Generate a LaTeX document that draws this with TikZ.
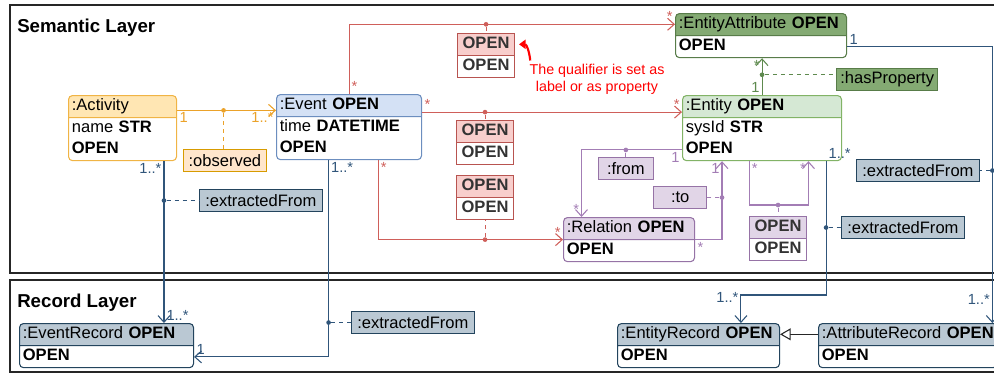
\documentclass[tikz,border=0pt]{standalone}
\usepackage{fontspec}
\setmainfont{Liberation Sans}
\usepackage{xcolor}
\usetikzlibrary{positioning,arrows.meta,shapes.multipart,calc}
\definecolor{actf}{HTML}{FFE6B3}
\definecolor{actd}{HTML}{F0B445}
\definecolor{orl}{HTML}{EBA22A}
\definecolor{obsf}{HTML}{FFE6CC}
\definecolor{obsd}{HTML}{D79B00}
\definecolor{evf}{HTML}{D4E1F5}
\definecolor{evd}{HTML}{6C8EBF}
\definecolor{redf}{HTML}{F8CECC}
\definecolor{redd}{HTML}{B85450}
\definecolor{redl}{HTML}{CF5F5A}
\definecolor{eaf}{HTML}{84AA73}
\definecolor{ead}{HTML}{587C49}
\definecolor{enf}{HTML}{D5E8D4}
\definecolor{end}{HTML}{82B366}
\definecolor{grl}{HTML}{5E8A4E}
\definecolor{puf}{HTML}{E1D5E7}
\definecolor{pud}{HTML}{9673A6}
\definecolor{pul}{HTML}{A37DB5}
\definecolor{blf}{HTML}{BAC8D3}
\definecolor{bld}{HTML}{23445D}
\definecolor{bll}{HTML}{30557A}
\definecolor{frame}{HTML}{262626}

\begin{document}
\begin{tikzpicture}[
  x=0.75pt, y=-0.75pt,
  every node/.style={font=\fontsize{12.4}{15.75}\selectfont},
  cls/.style 2 args={rectangle split, rectangle split parts=2,
    rectangle split part fill={#2,white}, draw=#1, line width=0.8pt,
    rounded corners=3pt, anchor=north west, inner xsep=2.5pt, inner ysep=0pt, align=left},
  qual/.style 2 args={rectangle split, rectangle split parts=2,
    rectangle split part fill={#2,white}, draw=#1, line width=0.8pt,
    anchor=north west, inner sep=0pt, text width=42.75pt, align=center,
    text=black!80, font=\fontsize{12.4}{15.75}\selectfont\bfseries},
  tag/.style 2 args={draw=#1, fill=#2, line width=0.8pt, anchor=north west,
    inner xsep=1pt, inner ysep=0pt, minimum height=16.5pt},
  mult/.style={font=\fontsize{11}{12}\selectfont, inner sep=1.5pt},
  conn/.style={line width=0.8pt, -{Straight Barb[length=5pt,width=9pt]}},
  link/.style={line width=0.8pt, dashed},
  dot/.style={circle, fill, inner sep=0pt, minimum size=3.5pt},
  layer/.style={draw=frame, line width=1.3pt},
  title/.style={anchor=base west, inner sep=0pt, font=\fontsize{14}{16}\selectfont\bfseries},
  note/.style={text=red, align=center, font=\fontsize{10.7}{12.75}\selectfont}
]
\useasboundingbox (0,0) rectangle (994,372);
\clip (0,0) rectangle (994,372);

% layers
\draw[layer] (10,5) rectangle (1010,273);
\draw[layer] (10,280) rectangle (1010,372);
\node[title] (sem) at (17,32) {Semantic Layer};
\node[title] (rec) at (17,307) {Record Layer};

% semantic layer
\node[cls={actd}{actf}, text width=76pt] (act) at (68,95)
  {\strut:Activity\nodepart{two}\strut name \textbf{STR}\\\strut\textbf{OPEN}};
\node[cls={evd}{evf}, text width=103.75pt] (ev) at (276,94)
  {\strut:Event \textbf{OPEN}\nodepart{two}\strut time \textbf{DATETIME}\\\strut\textbf{OPEN}};
\node[cls={ead}{eaf}, text width=123.25pt] (ea) at (675,13)
  {\strut:EntityAttribute \textbf{OPEN}\nodepart{two}\strut\textbf{OPEN}};
\node[cls={end}{enf}, text width=114.25pt] (en) at (682,95)
  {\strut:Entity \textbf{OPEN}\nodepart{two}\strut sysId \textbf{STR}\\\strut\textbf{OPEN}};
\node[cls={pud}{puf}, text width=93.25pt] (rel) at (563,217)
  {\strut:Relation \textbf{OPEN}\nodepart{two}\strut\textbf{OPEN}};

% qualifiers
\node[qual={redd}{redf}] (q1) at (457,33) {\strut OPEN\nodepart{two}\strut OPEN};
\node[qual={redd}{redf}] (q2) at (456,120) {\strut OPEN\nodepart{two}\strut OPEN};
\node[qual={redd}{redf}] (q3) at (456,175) {\strut OPEN\nodepart{two}\strut OPEN};
\node[qual={pud}{puf}] (q4) at (749,216) {\strut OPEN\nodepart{two}\strut OPEN};

% association labels
\node[tag={obsd}{obsf}, minimum width=62pt] (obs) at (183,149) {:observed};
\node[tag={ead}{eaf}, minimum width=76pt] (hp) at (836,68) {:hasProperty};
\node[tag={pud}{puf}, minimum width=41pt] (fr) at (598,157) {:from};
\node[tag={pud}{puf}, minimum width=40pt] (to) at (653,186) {:to};
\node[tag={bld}{blf}, minimum width=92pt] (xf1) at (199,189) {:extractedFrom};
\node[tag={bld}{blf}, minimum width=92pt] (xf2) at (351,311) {:extractedFrom};
\node[tag={bld}{blf}, minimum width=92pt] (xf3) at (856,159) {:extractedFrom};
\node[tag={bld}{blf}, minimum width=92pt] (xf4) at (841,216) {:extractedFrom};

\node[note] (nt) at (597,79) {The qualifier is set as\\label or as property};

% record layer
\node[cls={bld}{blf}, text width=125.5pt] (er) at (19,323)
  {\strut:EventRecord \textbf{OPEN}\nodepart{two}\strut\textbf{OPEN}};
\node[cls={bld}{blf}, text width=116.5pt] (enr) at (617,323)
  {\strut:EntityRecord \textbf{OPEN}\nodepart{two}\strut\textbf{OPEN}};
\node[cls={bld}{blf}, text width=129pt] (ar) at (818,323)
  {\strut:AttributeRecord \textbf{OPEN}\nodepart{two}\strut\textbf{OPEN}};

% activity -> event
\draw[conn, orl] ($(act.north east)!.68!(act.text split east)$) coordinate (a1)
  -- node[dot, pos=.47] (od) {} node[mult, pos=0, below right] {1}
     node[mult, pos=1, below left] {1..*} (a1 -| ev.west);
\draw[link, orl] (od) -- (od |- obs.north);

% event -> entity attribute, entity, relation
\coordinate (eaw) at ($(ea.north west)!.5!(ea.text split west)$);
\draw[conn, redl] (ev.north) |- node[mult, pos=0, above right] {*}
  node[mult, pos=1, above left] {*} (eaw);
\node[dot, redl] (rd1) at (q1.north |- eaw) {};
\draw[link, redl] (rd1) -- (q1.north);

\draw[conn, redl] ($(ev.north east)!.8!(ev.text split east)$) coordinate (e1)
  -- node[mult, pos=0, above right] {*} node[mult, pos=1, above left] {*} (e1 -| en.west);
\node[dot, redl] (rd2) at (q2.north |- e1) {};
\draw[link, redl] (rd2) -- (q2.north);

\draw[conn, redl] ($(ev.south west)!.7!(ev.south east)$) |- node[mult, pos=0, below right] {*}
  node[mult, pos=1, above left] {*} (rel.text split west);
\node[dot, redl] (rd3) at (q3.south |- rel.text split west) {};
\draw[link, redl] (rd3) -- (q3.south);

\draw[red, line width=1.6pt, -{Triangle[length=5pt,width=7pt]}]
  ([xshift=4pt,yshift=-1pt]nt.north west) to[out=95, in=0]
  ($(q1.north east)!.5!(q1.text split east)+(4,0)$);

% entity -> entity attribute
\draw[conn, grl] (en.north) -- node[dot, pos=.55] (gd) {} node[mult, pos=0, above left] {1}
  node[mult, pos=1, below left] {*} (en.north |- ea.south);
\draw[link, grl] (gd) -- (gd -| hp.west);

% entity <-> relation
\draw[conn, pul] ($(en.north west)!.83!(en.south west)$) coordinate (p1)
  -| node[mult, pos=0, below left] {1} node[mult, pos=1, above left] {*}
  ($(rel.north west)!.14!(rel.north east)$);
\node[dot, pul] (pd1) at (fr.north |- p1) {};
\draw[link, pul] (pd1) -- (fr.north);

\coordinate (p2) at ($(en.south west)!.25!(en.south east)$);
\draw[conn, pul] (rel.text split east) -| node[mult, pos=0, below right] {*}
  node[mult, pos=1, below left] {1} (p2);
\node[dot, pul] (pd2) at (p2 |- to.east) {};
\draw[link, pul] (pd2) -- (to.east);

\coordinate (p3) at ($(en.south west)!.42!(en.south east)$);
\coordinate (p4) at ($(en.south west)!.79!(en.south east)$);
\coordinate (p5) at ($(q4.north)+(0,-11)$);
\draw[conn, pul] (p3) |- node[mult, pos=0, below right] {*} (p5)
  -| node[mult, pos=1, below left] {*} (p4);
\node[dot, pul] (pd3) at (p5) {};
\draw[link, pul] (pd3) -- (q4.north);

% extracted from
\coordinate (b1) at ($(act.south west)!.88!(act.south east)$);
\draw[conn, bll] (b1) -- node[mult, pos=0, below left] {1..*}
  node[mult, pos=1, above right] {1..*} (b1 |- er.north);
\node[dot, bll] (bd1) at (b1 |- xf1.west) {};
\draw[link, bll] (bd1) -- (xf1.west);

\coordinate (b2) at ($(ev.south west)!.36!(ev.south east)$);
\draw[conn, bll] (b2) |- node[mult, pos=0, below right] {1..*}
  node[mult, pos=1, above right] {1} ($(er.text split east)!.5!(er.south east)$);
\node[dot, bll] (bd2) at (b2 |- xf2.west) {};
\draw[link, bll] (bd2) -- (xf2.west);

\coordinate (b3) at ($(en.south west)!.9!(en.south east)$);
\coordinate (b4) at ($(enr.north west)!.76!(enr.north east)$);
\draw[conn, bll] (b3) |- node[mult, pos=0, above right] {1..*} ($(b4)+(0,-28)$)
  -- node[mult, pos=.1, left] {1..*} (b4);
\node[dot, bll] (bd3) at (b3 |- xf4.west) {};
\draw[link, bll] (bd3) -- (xf4.west);

\coordinate (b5) at ($(ea.text split east)!.5!(ea.south east)$);
\coordinate (b6) at ($(ar.north west)!.97!(ar.north east)$);
\draw[conn, bll] (b5) -| node[mult, pos=0, above right] {1}
  node[mult, pos=.957, left] {1..*} (b6);
\node[dot, bll] (bd4) at (b6 |- xf3.east) {};
\draw[link, bll] (bd4) -- (xf3.east);

\draw[line width=0.8pt, black!85, -{Triangle[open, fill=white, length=8pt, width=9pt]}]
  ($(ar.north west)!.5!(ar.text split west)$) coordinate (r1) -- (r1 -| enr.east);
\end{tikzpicture}
\end{document}
